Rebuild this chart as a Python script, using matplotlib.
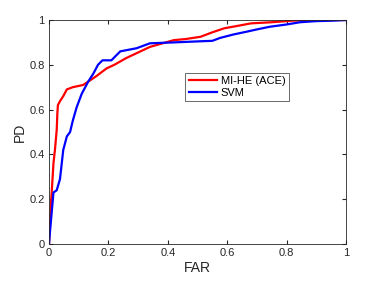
import matplotlib
matplotlib.use("Agg")
import matplotlib.pyplot as plt

plt.rcParams['font.family'] = ['Liberation Sans', 'DejaVu Sans']

# ROC curves
far_ace = [0, 0.004, 0.006, 0.01, 0.015, 0.02, 0.026, 0.028, 0.03, 0.038, 0.048, 0.06,
           0.08, 0.115, 0.132, 0.16, 0.194, 0.22, 0.26, 0.30, 0.34, 0.38, 0.42,
           0.46, 0.51, 0.55, 0.59, 0.64, 0.68, 0.75, 0.82, 0.9, 1.0]
pd_ace = [0, 0.1, 0.17, 0.25, 0.36, 0.42, 0.51, 0.58, 0.62, 0.64, 0.66, 0.69,
          0.70, 0.71, 0.725, 0.75, 0.784, 0.80, 0.83, 0.855, 0.88, 0.895, 0.91,
          0.915, 0.925, 0.945, 0.963, 0.975, 0.985, 0.99, 0.997, 1.0, 1.0]

far_svm = [0, 0.003, 0.009, 0.015, 0.026, 0.037, 0.048, 0.06, 0.071, 0.08, 0.093,
           0.11, 0.132, 0.149, 0.165, 0.18, 0.21, 0.24, 0.295, 0.34, 0.42, 0.51,
           0.55, 0.576, 0.62, 0.666, 0.70, 0.744, 0.8, 0.845, 0.9, 0.956, 1.0]
pd_svm = [0, 0.05, 0.14, 0.23, 0.24, 0.29, 0.42, 0.48, 0.50, 0.55, 0.61,
          0.67, 0.725, 0.76, 0.80, 0.82, 0.82, 0.86, 0.874, 0.896, 0.90, 0.905,
          0.907, 0.92, 0.935, 0.948, 0.958, 0.97, 0.98, 0.99, 0.995, 0.997, 1.0]

ticks = [0, 0.2, 0.4, 0.6, 0.8, 1]
tick_labels = ['0', '0.2', '0.4', '0.6', '0.8', '1']

fig = plt.figure(figsize=(3.82, 2.88), dpi=100)
ax = fig.add_axes([49 / 382, 1 - 244 / 288, 297 / 382, 224 / 288])

ax.plot(far_ace, pd_ace, color='red', lw=1.6, label='MI-HE (ACE)')
ax.plot(far_svm, pd_svm, color='blue', lw=1.6, label='SVM')

ax.set_xlim(0, 1)
ax.set_ylim(0, 1)
ax.set_xticks(ticks)
ax.set_xticklabels(tick_labels)
ax.set_yticks(ticks)
ax.set_yticklabels(tick_labels)
ax.tick_params(direction='in', top=True, right=True, labelsize=8, length=3,
               color='#262626', labelcolor='#262626', pad=3)
for s in ax.spines.values():
    s.set_color('#262626')
    s.set_linewidth(0.6)
ax.set_xlabel('FAR', fontsize=10, color='#262626', labelpad=2)
ax.set_ylabel('PD', fontsize=10, color='#262626', labelpad=2)

leg = ax.legend(loc='upper left', bbox_to_anchor=(0.44, 0.79), fontsize=8,
                frameon=True, fancybox=False, edgecolor='#262626',
                handlelength=2.6, borderpad=0.3, labelspacing=0.2, handletextpad=0.3)
leg.get_frame().set_linewidth(0.6)

fig.savefig('out.png', dpi=100)
